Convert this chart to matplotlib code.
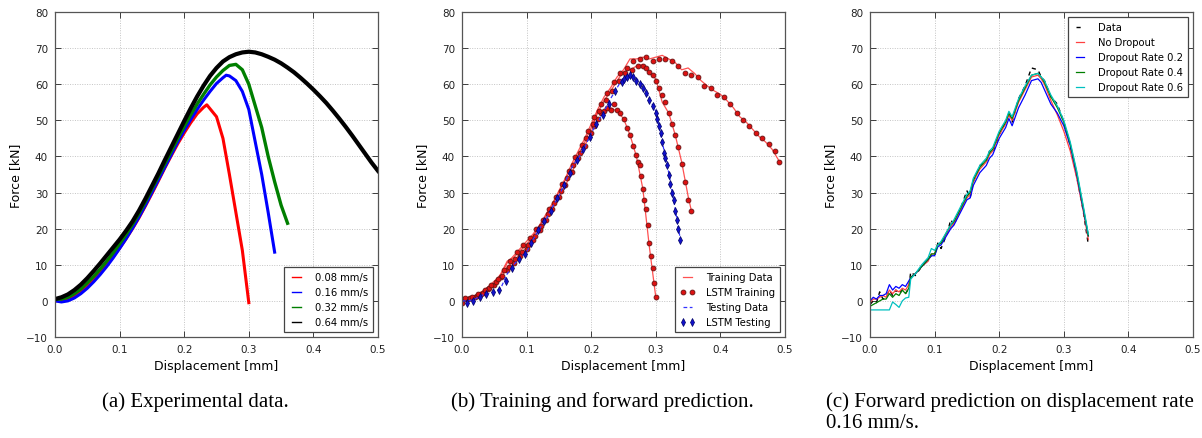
import matplotlib
matplotlib.use("Agg")
import matplotlib.pyplot as plt

# ---------------- Panel (a): experimental data ----------------
rate_labels = ["0.08 mm/s", "0.16 mm/s", "0.32 mm/s", "0.64 mm/s"]
rate_colors = ["#ff0000", "#0000ff", "#007f00", "#000000"]

x_008 = [0.00, 0.01, 0.02, 0.03, 0.04, 0.05, 0.06, 0.07, 0.08, 0.09, 0.10, 0.11, 0.12, 0.13, 0.14,
         0.15, 0.16, 0.17, 0.18, 0.19, 0.20, 0.21, 0.22, 0.23, 0.235, 0.24, 0.25, 0.26, 0.27, 0.28,
         0.29, 0.30]
f_008 = [0.0, 0.2, 0.6, 1.4, 2.5, 4.0, 5.8, 7.8, 10.0, 12.2, 14.6, 17.2, 20.0, 23.0, 26.3,
         29.7, 33.2, 36.8, 40.2, 43.5, 46.5, 49.3, 51.8, 53.6, 54.3, 53.2, 51.0, 45.0, 35.0, 24.5,
         14.0, -0.5]

x_016 = [0.00, 0.01, 0.02, 0.03, 0.04, 0.05, 0.06, 0.07, 0.08, 0.09, 0.10, 0.11, 0.12, 0.13, 0.14,
         0.15, 0.16, 0.17, 0.18, 0.19, 0.20, 0.21, 0.22, 0.23, 0.24, 0.25, 0.26, 0.265, 0.27, 0.28,
         0.29, 0.30, 0.31, 0.32, 0.33, 0.34]
f_016 = [0.0, -0.3, 0.0, 0.8, 2.0, 3.5, 5.3, 7.3, 9.5, 11.9, 14.5, 17.2, 20.1, 23.2, 26.5,
         30.0, 33.5, 37.0, 40.5, 44.0, 47.2, 50.2, 53.0, 55.6, 58.0, 60.2, 61.8, 62.5, 62.3, 61.0,
         58.0, 53.0, 44.0, 35.0, 24.5, 13.5]

x_032 = [0.00, 0.01, 0.02, 0.03, 0.04, 0.05, 0.06, 0.07, 0.08, 0.09, 0.10, 0.11, 0.12, 0.13, 0.14,
         0.15, 0.16, 0.17, 0.18, 0.19, 0.20, 0.21, 0.22, 0.23, 0.24, 0.25, 0.26, 0.27, 0.28, 0.29,
         0.30, 0.31, 0.32, 0.33, 0.34, 0.35, 0.36]
f_032 = [0.5, 0.5, 1.0, 2.0, 3.3, 5.0, 6.8, 8.8, 11.0, 13.3, 15.8, 18.4, 21.2, 24.2, 27.5,
         31.0, 34.5, 38.0, 41.5, 45.0, 48.3, 51.5, 54.5, 57.2, 59.8, 62.0, 63.8, 65.2, 65.5, 64.0,
         60.0, 54.0, 48.0, 40.0, 33.0, 26.5, 21.5]

x_064 = [0.00, 0.01, 0.02, 0.03, 0.04, 0.05, 0.06, 0.07, 0.08, 0.09, 0.10, 0.11, 0.12, 0.13, 0.14,
         0.15, 0.16, 0.17, 0.18, 0.19, 0.20, 0.21, 0.22, 0.23, 0.24, 0.25, 0.26, 0.27, 0.28, 0.29,
         0.30, 0.31, 0.32, 0.33, 0.34, 0.35, 0.36, 0.37, 0.38, 0.39, 0.40, 0.41, 0.42, 0.43, 0.44,
         0.45, 0.46, 0.47, 0.48, 0.49, 0.50]
f_064 = [0.5, 1.0, 1.8, 3.0, 4.5, 6.3, 8.3, 10.4, 12.6, 14.8, 17.0, 19.4, 22.0, 25.0, 28.3,
         31.8, 35.3, 39.0, 42.6, 46.2, 49.8, 53.3, 56.6, 59.6, 62.3, 64.5, 66.3, 67.5, 68.3, 68.8,
         69.0, 68.8, 68.3, 67.6, 66.8, 65.8, 64.6, 63.3, 61.8, 60.2, 58.5, 56.7, 54.8, 52.7, 50.5,
         48.2, 45.8, 43.3, 40.8, 38.3, 36.0]

# ---------------- Panel (b): training and forward prediction ----------------
b_labels = ["Training Data", "LSTM Training", "Testing Data", "LSTM Testing"]

train_x_008 = [0.00, 0.01, 0.02, 0.03, 0.04, 0.05, 0.06, 0.07, 0.08, 0.09, 0.10, 0.11, 0.12, 0.13,
               0.14, 0.15, 0.16, 0.17, 0.18, 0.19, 0.20, 0.21, 0.22, 0.23, 0.24, 0.25, 0.26, 0.27,
               0.28, 0.29, 0.30]
train_f_008 = [0.0, 0.3, 0.8, 1.8, 3.0, 4.5, 6.0, 9.5, 10.8, 13.0, 14.8, 17.5, 19.5, 22.5,
               25.5, 28.5, 32.0, 35.5, 39.5, 43.0, 46.5, 53.0, 52.5, 53.5, 52.5, 50.5, 46.0, 40.0,
               31.0, 15.0, 1.0]

train_x_032 = [0.00, 0.01, 0.02, 0.03, 0.04, 0.05, 0.06, 0.07, 0.08, 0.09, 0.10, 0.11, 0.12, 0.13,
               0.14, 0.15, 0.16, 0.17, 0.18, 0.19, 0.20, 0.21, 0.22, 0.23, 0.24, 0.25, 0.26, 0.27,
               0.28, 0.29, 0.30, 0.31, 0.32, 0.33, 0.34, 0.35, 0.355]
train_f_032 = [0.5, 0.8, 1.2, 2.2, 3.5, 5.0, 7.5, 11.0, 12.0, 14.0, 15.5, 18.0, 20.5, 23.5,
               26.5, 30.0, 33.5, 37.0, 40.5, 44.0, 48.0, 52.0, 55.5, 58.0, 61.0, 63.5, 64.0, 65.0,
               65.5, 63.0, 61.5, 55.0, 52.0, 46.0, 38.5, 29.0, 25.0]

train_x_064 = [0.00, 0.01, 0.02, 0.03, 0.04, 0.05, 0.06, 0.07, 0.08, 0.09, 0.10, 0.11, 0.12, 0.13,
               0.14, 0.15, 0.16, 0.17, 0.18, 0.19, 0.20, 0.21, 0.22, 0.23, 0.24, 0.25, 0.26, 0.27,
               0.28, 0.29, 0.30, 0.31, 0.32, 0.33, 0.34, 0.35, 0.36, 0.37, 0.38, 0.39, 0.40, 0.41,
               0.42, 0.43, 0.44, 0.45, 0.46, 0.47, 0.48, 0.49]
train_f_064 = [0.5, 1.0, 1.5, 2.5, 3.8, 5.5, 7.0, 10.5, 12.5, 14.5, 16.5, 18.5, 21.0, 24.0,
               27.0, 30.5, 34.0, 38.0, 41.5, 45.0, 49.0, 53.0, 56.5, 59.0, 62.0, 64.0, 67.0, 67.0,
               67.5, 67.0, 67.5, 68.0, 67.0, 66.0, 64.0, 64.5, 63.0, 61.0, 59.5, 58.2, 57.2, 55.5,
               53.5, 51.0, 49.5, 47.5, 45.5, 44.0, 42.0, 39.0]

lstm_x_008 = [0.00, 0.01, 0.02, 0.03, 0.04, 0.05, 0.06, 0.07, 0.08, 0.09, 0.10, 0.11, 0.12, 0.13,
              0.14, 0.15, 0.16, 0.17, 0.18, 0.19, 0.20, 0.205, 0.21, 0.215, 0.22, 0.225, 0.23,
              0.235, 0.24, 0.245, 0.25, 0.255, 0.26, 0.265, 0.27, 0.2725, 0.275, 0.2775, 0.28,
              0.2825, 0.285, 0.2875, 0.29, 0.2925, 0.295, 0.2975, 0.30]
lstm_f_008 = [-0.5, 0.5, 1.0, 2.0, 3.2, 4.5, 6.5, 8.5, 10.5, 12.5, 14.5, 17.0, 19.5, 22.5,
              25.5, 28.8, 32.2, 35.8, 39.5, 43.0, 46.5, 48.5, 50.5, 52.0, 52.5, 53.5, 53.0,
              54.5, 53.0, 52.0, 50.5, 48.0, 46.0, 43.0, 40.5, 38.5, 37.5, 34.5, 31.0,
              28.0, 25.5, 21.0, 16.0, 12.5, 9.0, 5.0, 1.0]

lstm_x_032 = [0.0025, 0.0125, 0.0225, 0.0325, 0.0425, 0.0525, 0.0625, 0.0725, 0.0825, 0.0925,
              0.1025, 0.1125, 0.1225, 0.1325, 0.1425, 0.1525, 0.1625, 0.1725, 0.1825, 0.1925,
              0.2025, 0.2125, 0.2225, 0.2325, 0.2425, 0.2525, 0.2625, 0.2725,
              0.28, 0.285, 0.29, 0.295, 0.30, 0.305, 0.31, 0.315, 0.32, 0.325, 0.33, 0.335,
              0.34, 0.345, 0.35, 0.355]
lstm_f_032 = [0.5, 0.8, 1.3, 2.3, 3.6, 5.2, 7.0, 9.5, 11.5, 13.5,
              15.5, 18.0, 20.8, 24.0, 27.0, 30.5, 34.0, 37.5, 41.0, 45.0,
              49.0, 52.5, 55.5, 58.0, 61.0, 63.0, 64.0, 65.0,
              65.0, 64.5, 63.5, 62.5, 61.0, 59.0, 57.0, 55.0, 52.0, 49.0, 46.0, 42.5,
              38.0, 33.0, 28.0, 25.0]

lstm_x_064 = [0.005, 0.015, 0.025, 0.035, 0.045, 0.055, 0.065, 0.075, 0.085, 0.095, 0.105, 0.115,
              0.125, 0.135, 0.145, 0.155, 0.165, 0.175, 0.185, 0.195, 0.205, 0.215, 0.225, 0.235,
              0.245, 0.255, 0.265, 0.275, 0.285, 0.295, 0.305, 0.315, 0.325, 0.335, 0.345, 0.355,
              0.365, 0.375, 0.385, 0.395, 0.405, 0.415, 0.425, 0.435, 0.445, 0.455, 0.465, 0.475,
              0.485, 0.49]
lstm_f_064 = [0.8, 1.2, 2.0, 3.0, 4.5, 6.2, 8.5, 11.0, 13.5, 15.5, 17.5, 19.8,
              22.5, 25.5, 28.8, 32.3, 36.0, 39.8, 43.3, 47.0, 51.0, 54.5, 57.5, 60.5,
              63.0, 64.5, 66.5, 67.0, 67.5, 66.5, 67.0, 67.0, 66.5, 65.0, 63.0, 62.5,
              62.0, 59.5, 59.0, 57.0, 56.5, 54.5, 52.0, 50.0, 48.5, 46.5, 45.0, 43.5,
              41.5, 38.5]

test_x = [0.00, 0.01, 0.02, 0.03, 0.04, 0.05, 0.06, 0.07, 0.08, 0.09, 0.10, 0.11, 0.12, 0.13,
          0.14, 0.15, 0.16, 0.17, 0.18, 0.19, 0.20, 0.21, 0.22, 0.23, 0.24, 0.25, 0.26, 0.27,
          0.28, 0.29, 0.30, 0.31, 0.32, 0.33, 0.338]
test_f = [0.0, 0.0, 0.5, 1.5, 2.0, 2.5, 3.5, 7.5, 10.0, 12.0, 13.5, 17.0, 20.0, 22.5,
          26.0, 29.0, 33.0, 37.0, 39.5, 42.5, 46.5, 49.5, 52.5, 56.0, 59.0, 62.0, 62.5, 61.5,
          60.0, 56.0, 52.5, 44.0, 35.5, 25.5, 17.0]

lstm_test_x = [0.0075, 0.0175, 0.0275, 0.0375, 0.0475, 0.0575, 0.0675, 0.0775, 0.0875, 0.0975,
               0.1075, 0.1175, 0.1275, 0.1375, 0.1475, 0.1575, 0.1675, 0.1775, 0.1875, 0.1975,
               0.2075, 0.2175, 0.2275, 0.2375, 0.2475,
               0.25, 0.255, 0.26, 0.265, 0.27, 0.275, 0.28, 0.285, 0.29, 0.295, 0.30,
               0.3025, 0.305, 0.3075, 0.31, 0.3125, 0.315, 0.3175, 0.32, 0.3225, 0.325, 0.3275,
               0.33, 0.3325, 0.335, 0.3375]
lstm_test_f = [-0.5, 0.0, 1.0, 2.0, 2.5, 3.0, 5.5, 9.0, 11.5, 13.0,
               16.0, 19.5, 22.0, 25.0, 28.5, 32.0, 35.5, 39.0, 42.0, 45.5,
               49.0, 51.5, 54.5, 58.0, 60.5,
               61.5, 62.0, 62.5, 62.0, 61.0, 60.0, 59.0, 57.5, 55.5, 54.0, 52.0,
               50.5, 48.5, 46.5, 44.0, 41.0, 39.5, 37.5, 35.0, 32.5, 30.0, 28.0,
               25.0, 22.5, 20.0, 17.0]

# ---------------- Panel (c): forward prediction, rate 0.16 mm/s ----------------
c_labels = ["Data", "No Dropout", "Dropout Rate 0.2", "Dropout Rate 0.4", "Dropout Rate 0.6"]
xc = [0.000, 0.005, 0.010, 0.015, 0.020, 0.025, 0.030, 0.035, 0.040, 0.045, 0.050, 0.055, 0.060,
      0.063, 0.070, 0.080, 0.090, 0.095, 0.100, 0.105, 0.110, 0.120, 0.125, 0.130, 0.140, 0.150,
      0.155, 0.160, 0.170, 0.180, 0.185, 0.190, 0.200, 0.210, 0.215, 0.220, 0.230, 0.240, 0.250,
      0.260, 0.265, 0.270, 0.280, 0.290, 0.300, 0.310, 0.320, 0.330, 0.338]
c_data = [-1.0, 0.0, -0.5, 2.5, 0.5, 1.0, 3.0, 1.5, 3.0, 2.0, 3.0, 2.0, 3.5,
          8.0, 7.0, 9.5, 11.5, 12.5, 12.5, 16.0, 14.5, 19.0, 22.5, 21.0, 25.5, 30.5,
          28.5, 33.0, 37.5, 38.5, 41.5, 41.0, 46.0, 49.5, 52.0, 49.5, 56.0, 59.5, 64.5,
          64.0, 62.0, 61.0, 56.5, 54.5, 49.5, 43.0, 34.5, 25.0, 15.5]
c_nodrop = [-0.5, 0.5, 0.5, 1.0, 1.5, 1.0, 3.0, 2.0, 3.0, 2.5, 3.5, 3.0, 4.5,
            6.5, 7.5, 9.5, 11.0, 13.0, 13.0, 15.5, 16.0, 19.0, 20.5, 21.5, 25.0, 28.5,
            29.5, 33.0, 36.5, 38.5, 40.5, 41.5, 46.0, 49.0, 51.5, 50.0, 55.0, 58.5, 62.0,
            62.5, 61.5, 60.0, 55.5, 51.5, 47.0, 41.5, 34.0, 25.0, 17.0]
c_drop02 = [0.0, 1.0, 0.5, 1.5, 1.5, 2.0, 4.5, 3.0, 4.0, 3.5, 4.5, 4.0, 5.5,
            6.5, 7.5, 9.5, 11.5, 12.5, 12.5, 15.0, 15.5, 18.5, 20.0, 21.0, 24.5, 28.0,
            28.5, 32.0, 35.5, 37.5, 39.5, 40.5, 45.0, 48.0, 50.5, 48.5, 53.5, 57.0, 61.0,
            61.5, 60.5, 58.5, 54.5, 52.0, 48.5, 43.0, 35.0, 25.5, 18.0]
c_drop04 = [-1.5, -1.0, -0.5, 0.0, 0.5, 0.5, 2.0, 1.0, 2.0, 1.5, 3.0, 2.0, 3.5,
            6.5, 7.5, 9.5, 11.5, 13.0, 13.0, 15.5, 16.0, 19.5, 21.0, 22.0, 25.5, 29.0,
            30.0, 33.5, 37.0, 39.0, 41.0, 42.0, 46.5, 49.5, 52.0, 50.5, 55.5, 59.0, 62.5,
            63.0, 62.0, 60.5, 56.5, 53.5, 49.5, 43.5, 35.5, 26.0, 18.0]
c_drop06 = [-2.5, -2.5, -2.5, -2.5, -2.5, -2.5, -2.5, -0.3, -1.0, -1.8, 0.0, 0.8, 1.0,
            6.0, 7.5, 10.0, 12.0, 14.5, 14.0, 15.5, 16.5, 19.5, 21.0, 22.5, 26.0, 29.5,
            30.5, 34.0, 37.5, 39.5, 41.5, 42.5, 47.0, 50.0, 52.5, 51.0, 56.0, 59.5, 62.5,
            63.0, 62.0, 61.0, 57.0, 54.0, 50.0, 44.0, 36.0, 26.5, 18.5]

x_ticks = [0.0, 0.1, 0.2, 0.3, 0.4, 0.5]
y_ticks = [-10, 0, 10, 20, 30, 40, 50, 60, 70, 80]
captions = ["(a) Experimental data.", "(b) Training and forward prediction.",
            "(c) Forward prediction on displacement rate", "0.16 mm/s."]

# ---------------- Figure ----------------
plt.rcParams['font.family'] = ['DejaVu Sans']
W, H = 1202, 439
fig = plt.figure(figsize=(W / 100, H / 100), dpi=100)

def px_axes(left, top, right, bottom):
    return fig.add_axes([left / W, 1 - bottom / H, (right - left) / W, (bottom - top) / H])

axA = px_axes(55, 13, 378, 338)
axB = px_axes(462, 13, 785, 338)
axC = px_axes(870, 13, 1193, 338)

def style(ax):
    ax.set_xlim(0.0, 0.5)
    ax.set_ylim(-10, 80)
    ax.set_xticks(x_ticks)
    ax.set_yticks(y_ticks)
    ax.set_xticklabels([f"{v:.1f}" for v in x_ticks])
    ax.set_yticklabels(["\u221210" if v < 0 else str(v) for v in y_ticks])
    ax.grid(True, linestyle=(0, (1, 1.5)), color='#c4c4c4', linewidth=0.7)
    ax.set_axisbelow(True)
    ax.tick_params(direction='in', top=True, right=True, length=4, width=0.6,
                   labelsize=7.5, pad=5, colors='#222222')
    for s in ax.spines.values():
        s.set_color('#555555')
        s.set_linewidth(0.9)
    ax.set_xlabel("Displacement [mm]", fontsize=9, labelpad=4)
    ax.set_ylabel("Force [kN]", fontsize=9, labelpad=3)

def legend(ax, loc):
    leg = ax.legend(loc=loc, fontsize=7.2, fancybox=False, framealpha=1, edgecolor='#444444',
                    handlelength=1.45, handletextpad=1.1, labelspacing=0.5, borderpad=0.5,
                    borderaxespad=0.5, numpoints=2)
    leg.get_frame().set_linewidth(0.9)
    return leg

# (a)
axA.plot(x_008, f_008, color=rate_colors[0], lw=2.2, label=rate_labels[0])
axA.plot(x_016, f_016, color=rate_colors[1], lw=2.2, label=rate_labels[1])
axA.plot(x_032, f_032, color=rate_colors[2], lw=2.4, label=rate_labels[2])
axA.plot(x_064, f_064, color=rate_colors[3], lw=3.0, label=rate_labels[3])
style(axA)
legA = legend(axA, 'lower right')
for ln in legA.get_lines():
    ln.set_linewidth(1.0)

# (b)
tr_kw = dict(color='#ff3333', lw=0.9, alpha=0.85)
axB.plot(train_x_008, train_f_008, label=b_labels[0], **tr_kw)
axB.plot(train_x_032, train_f_032, **tr_kw)
axB.plot(train_x_064, train_f_064, **tr_kw)
pt_kw = dict(ls='none', marker='o', ms=3.5, mfc='#dd1111', mec='#661111', mew=0.6)
axB.plot(lstm_x_008, lstm_f_008, label=b_labels[1], **pt_kw)
axB.plot(lstm_x_032, lstm_f_032, **pt_kw)
axB.plot(lstm_x_064, lstm_f_064, **pt_kw)
axB.plot(test_x, test_f, color='#3333ff', lw=0.9, ls='--', dashes=(3, 2), label=b_labels[2])
axB.plot(lstm_test_x, lstm_test_f, ls='none', marker='d', ms=3.6, mfc='#1111cc', mec='#000066',
         mew=0.5, label=b_labels[3])
style(axB)
legend(axB, 'lower right')

# (c)
axC.plot(xc, c_data, color='black', lw=1.0, ls='--', dashes=(3, 3), label=c_labels[0])
axC.plot(xc, c_nodrop, color='#ff4040', lw=0.9, label=c_labels[1])
axC.plot(xc, c_drop02, color='#0000ff', lw=0.9, label=c_labels[2])
axC.plot(xc, c_drop04, color='#007f00', lw=0.9, label=c_labels[3])
axC.plot(xc, c_drop06, color='#00c0c0', lw=0.9, label=c_labels[4])
style(axC)
legend(axC, 'upper right')

# captions
cap_kw = dict(fontsize=15, family=['Liberation Serif', 'DejaVu Serif'], color='black')
fig.text(195 / W, 1 - 407 / H, captions[0], ha='center', va='baseline', **cap_kw)
fig.text(602 / W, 1 - 407 / H, captions[1], ha='center', va='baseline', **cap_kw)
fig.text(826 / W, 1 - 407 / H, captions[2], ha='left', va='baseline', **cap_kw)
fig.text(826 / W, 1 - 428 / H, captions[3], ha='left', va='baseline', **cap_kw)

fig.savefig("out.png", dpi=100)
